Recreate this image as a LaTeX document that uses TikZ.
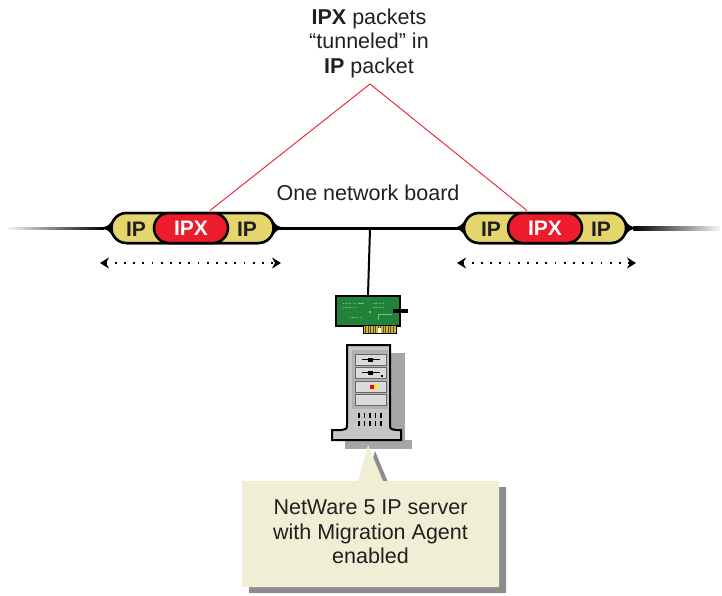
\documentclass[tikz,border=0pt]{standalone}
\usepackage{fontspec}
\setmainfont{Liberation Sans}
\usetikzlibrary{arrows.meta,shapes.misc,calc}

\definecolor{pktyellow}{HTML}{E4D66C}
\definecolor{pktred}{HTML}{EC1C2D}
\definecolor{callfill}{HTML}{F0EED5}
\definecolor{shadowgray}{HTML}{8C8C8C}
\definecolor{nicgreen}{HTML}{23823A}
\definecolor{niclight}{HTML}{6CC47A}
\definecolor{fingergold}{HTML}{D9B623}
\definecolor{towergray}{HTML}{C6C6C6}
\definecolor{inkdark}{HTML}{231F20}

\tikzset{
  packet/.style={rounded rectangle, draw=black, line width=2.5pt, fill=pktyellow,
    minimum width=162pt, minimum height=30pt, inner sep=0pt},
  ipxbox/.style={rounded rectangle, draw=black, line width=2.5pt, fill=pktred,
    minimum width=74pt, minimum height=30pt, inner sep=0pt, text=white,
    font=\fontsize{21}{21}\selectfont\bfseries},
  iplabel/.style={font=\fontsize{21}{21}\selectfont\bfseries, text=inkdark},
  bodytext/.style={font=\fontsize{21.5}{24.5}\selectfont, text=inkdark, align=center},
  tunnel/.style={draw=pktred, line width=0.9pt},
  dotarrow/.style={line width=2pt, dash pattern=on 1.8pt off 7.4pt,
    {Stealth[length=9pt,width=11pt,inset=3pt]}-{Stealth[length=9pt,width=11pt,inset=3pt]}},
  wire/.style={line width=3pt},
}

\begin{document}
\begin{tikzpicture}[x=1pt,y=-1pt]
\useasboundingbox (0,0) rectangle (722,595);

% --- end points of the network cable
\coordinate (cableL) at (8,229);
\coordinate (cableR) at (720,229);
\coordinate (tap) at (370,229);
\coordinate (apex) at (370,84);

% --- packets (nodes placed first so the wires can refer to them)
\node[packet] (pktL) at (192.5,228) {};
\node[packet] (pktR) at (545,228) {};

% --- fading cable ends
\shade[left color=black!4, right color=black] (cableL) ++(0,-1.6) rectangle ($(pktL.west)+(-6,1.6)$);
\shade[left color=black, right color=black!4] ($(pktR.east)+(6,-1.6)$) rectangle ($(cableR)+(0,1.6)$);

% --- cable between the packets and the drop to the board
\draw[wire] (pktL.east) -- (pktR.west);
\node[draw=black, line width=2pt, fill=nicgreen, minimum width=64pt, minimum height=30pt, inner sep=0pt] (nic) at (368,311) {};
\draw[line width=2pt] (tap) -- (nic.north);

% --- tapered joints where the cable meets each packet
\foreach \p/\s in {pktL.west/-1, pktL.east/1, pktR.west/-1, pktR.east/1}{
  \fill ($(\p)+(-3*\s,-9)$) .. controls ($(\p)+(2*\s,-2)$) .. ($(\p)+(10*\s,0)$)
        .. controls ($(\p)+(2*\s,2)$) .. ($(\p)+(-3*\s,9)$) -- cycle;
}

% --- packet contents
\node[packet] at (pktL) {};
\node[packet] at (pktR) {};
\node[ipxbox] (ipxL) at (191,228) {IPX};
\node[ipxbox] (ipxR) at (545,228) {IPX};
\node[iplabel] (ipL1) at (136,229) {IP};
\node[iplabel] (ipL2) at (247,229) {IP};
\node[iplabel] (ipR1) at (491,229) {IP};
\node[iplabel] (ipR2) at (601,229) {IP};

% --- tunnel label and its lines
\node[bodytext] (title) at (369,43) {\textbf{IPX} packets\\“tunneled” in\\\textbf{IP} packet};
\draw[tunnel] ($(ipxL.north)+(19,-1.2)$) -- (apex) -- ($(ipxR.north)+(-18,-1.2)$);

\node[bodytext] (board) at (368,193) {One network board};

% --- span arrows under the packets
\coordinate (spanL1) at (100,263);
\coordinate (spanL2) at (281,263);
\coordinate (spanR1) at (457,263);
\coordinate (spanR2) at (636,263);
\draw[dotarrow] (spanL1) -- (spanL2);
\draw[dotarrow] (spanR1) -- (spanR2);

% --- network board details
\foreach \y in {303,307}{
  \draw[niclight, line width=1pt, dash pattern=on 1.2pt off 1.2pt] (343,\y) -- (356,\y);
  \draw[niclight, line width=1pt, dash pattern=on 1.2pt off 1.2pt] (373,\y) -- (384,\y);
}
\draw[niclight, line width=0.8pt] (358,303) -- (364,303);
\draw[niclight, line width=1pt, dash pattern=on 1.2pt off 1.2pt] (350,317) -- (362,317);
\draw[niclight, line width=0.8pt] (378,320) -- (378,314) -- (392,314);
\fill[niclight] (369,311) rectangle (370.5,313);
\fill (393,309) rectangle (408,313);
\fill[fingergold] (363,326) rectangle (396,333);
\foreach \x in {365,367.5,...,394}{ \fill[black!70] (\x,326) rectangle (\x+0.7,333); }
\fill[white] (378,328) rectangle (381,334);
\draw[line width=1pt] (363,326) -- (363,333) -- (396,333) -- (396,326);

% --- server tower
\fill[black!35] (390,353) rectangle (405,448);
\fill[black!35] (345,440) rectangle (412,449);
\draw[line width=2pt, fill=towergray] (347,345) -- (390,345) -- (390,424)
  .. controls (390,429) .. (396,430) -- (401,430) -- (401,440) -- (332,440)
  -- (332,430) -- (341,430) .. controls (347,429) .. (347,424) -- cycle;
\fill[black!30] (352,350) rectangle (388,409);
\foreach \y in {354,367,381,394}{
  \draw[black!60, fill=black!14, line width=0.8pt] (355,\y) rectangle (386,{\y+11});
}
\foreach \y in {359.5,372.5}{
  \draw[line width=0.8pt] (362,\y) -- (380,\y);
  \fill (368,{\y-2}) rectangle (373,{\y+2});
}
\fill (381,375) rectangle (382.5,376.5);
\fill[red] (370,385) rectangle (374,389);
\fill[yellow] (374,385) rectangle (378,389);
\foreach \x in {358,363.5,...,380}{
  \fill (\x,413) rectangle (\x+1.8,418);
  \fill (\x,421) rectangle (\x+1.8,426);
}

% --- callout
\coordinate (tip) at (368,445);
\fill[shadowgray] ($(tip)+(7,6)$) -- (390,487) -- (506,487) -- (506,593) -- (249,593) -- (249,487) -- (365,487) -- cycle;
\fill[callfill] (tip) -- (383,481) -- (499,481) -- (499,587) -- (242,587) -- (242,481) -- (358,481) -- cycle;
\node[bodytext] (note) at (370.5,532) {NetWare 5 IP server\\with Migration Agent\\enabled};
\end{tikzpicture}
\end{document}
